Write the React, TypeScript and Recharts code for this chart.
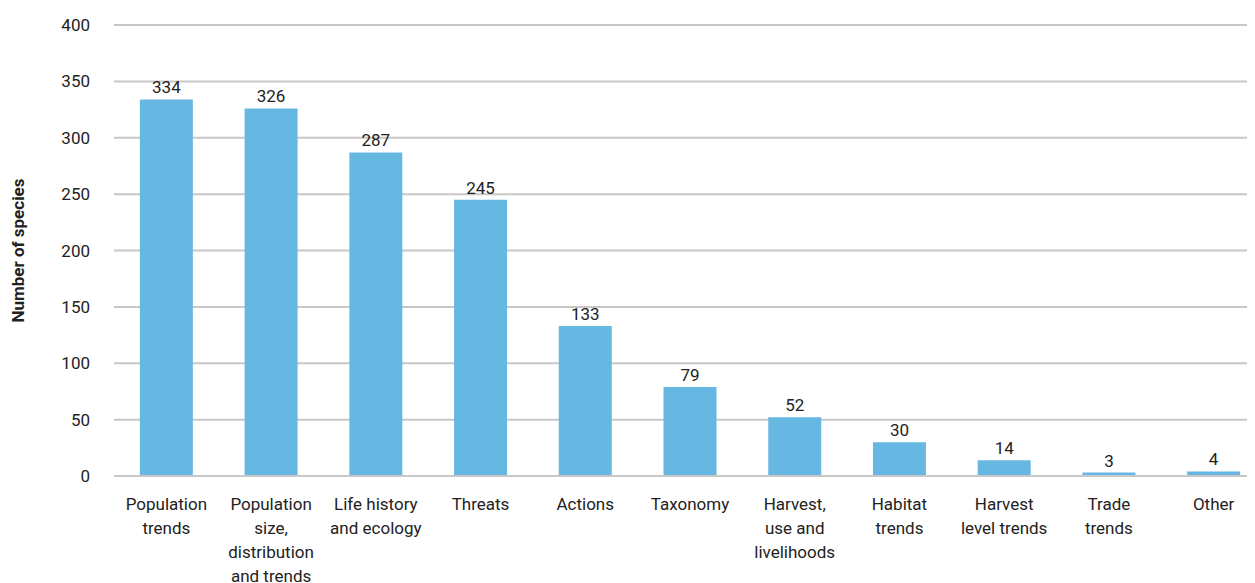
import React from 'react'
import { BarChart, Bar, XAxis, YAxis, CartesianGrid, LabelList } from 'recharts'

const categories = [
  'Population\ntrends',
  'Population\nsize,\ndistribution\nand trends',
  'Life history\nand ecology',
  'Threats',
  'Actions',
  'Taxonomy',
  'Harvest,\nuse and\nlivelihoods',
  'Habitat\ntrends',
  'Harvest\nlevel trends',
  'Trade\ntrends',
  'Other',
]
const speciesCounts = [334, 326, 287, 245, 133, 79, 52, 30, 14, 3, 4]
const yTicks = [0, 50, 100, 150, 200, 250, 300, 350, 400]

const FONT = '"Liberation Sans Narrow", "Roboto", sans-serif'
const TEXT = '#222'

const chartData = categories.map((name, i) => ({ name, value: speciesCounts[i] }))

function CategoryTick(props: any) {
  const { x, y, payload } = props
  const lines = String(payload.value).split('\n')
  return (
    <text x={x} y={y + 32} textAnchor="middle" fill={TEXT} fontSize={17} fontFamily={FONT}>
      {lines.map((line, i) => (
        <tspan key={i} x={x} dy={i === 0 ? 0 : 24}>
          {line}
        </tspan>
      ))}
    </text>
  )
}

export default function App() {
  // plot runs slightly past the right edge of the window, as in the source
  return (
    <div style={{ width: 1247, height: 575, overflow: 'hidden' }}>
      <BarChart
        width={1258}
        height={575}
        data={chartData}
        margin={{ top: 17, right: 0, left: 0, bottom: 0 }}
        barCategoryGap="24.7%"
      >
        <CartesianGrid vertical={false} stroke="#c8c8c8" strokeWidth={2} />
        <XAxis
          dataKey="name"
          interval={0}
          height={107}
          tickLine={false}
          tickSize={0}
          axisLine={{ stroke: '#c8c8c8', strokeWidth: 2 }}
          tick={<CategoryTick />}
        />
        <YAxis
          width={106}
          domain={[0, 400]}
          ticks={yTicks}
          axisLine={false}
          tickLine={false}
          tickSize={0}
          tickMargin={24}
          tick={{ fill: TEXT, fontSize: 17, fontFamily: FONT }}
          label={{
            value: 'Number of species',
            angle: -90,
            position: 'insideLeft',
            offset: 10,
            style: { textAnchor: 'middle', fill: TEXT, fontSize: 17, fontWeight: 'bold', fontFamily: FONT },
          }}
        />
        <Bar dataKey="value" fill="#66b8e3" isAnimationActive={false}>
          <LabelList
            dataKey="value"
            position="top"
            offset={6}
            fill={TEXT}
            fontSize={17}
            fontFamily={FONT}
          />
        </Bar>
      </BarChart>
    </div>
  )
}
